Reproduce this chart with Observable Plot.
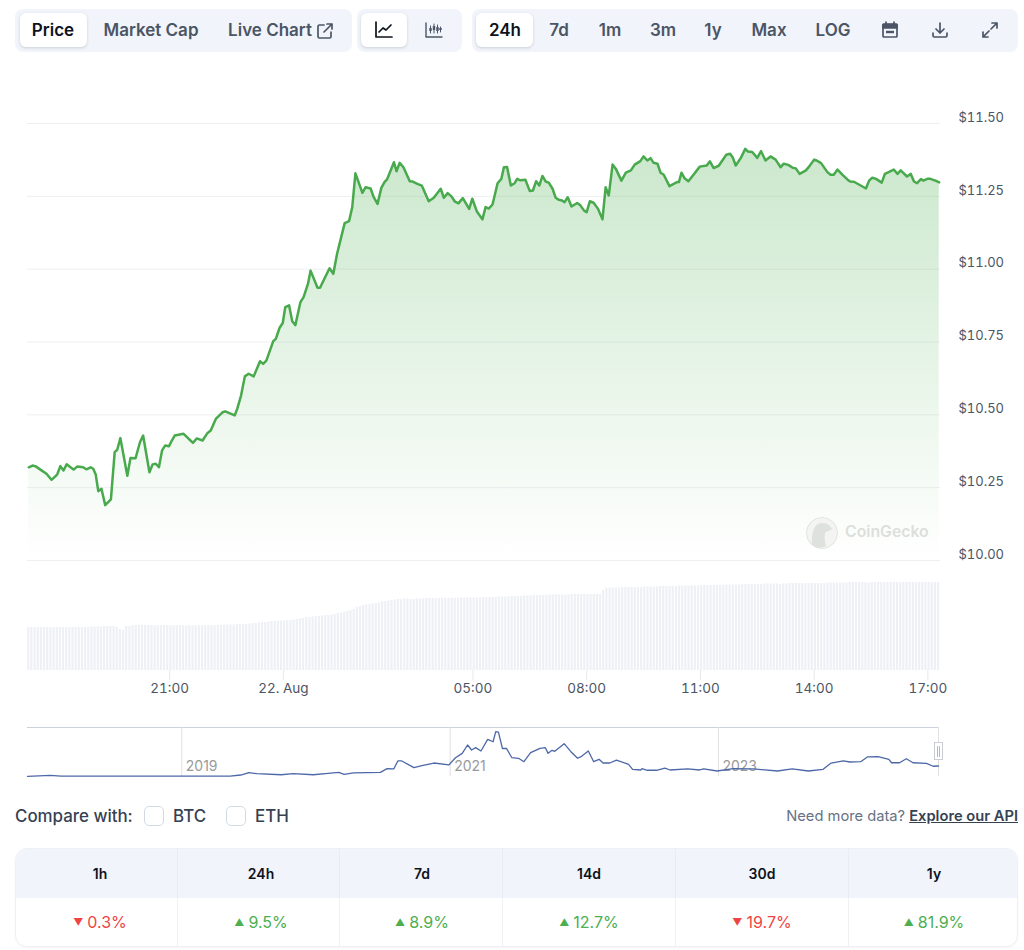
<!DOCTYPE html>
<html><head><meta charset="utf-8">
<script src="https://cdn.jsdelivr.net/npm/d3@7"></script>
<script src="https://cdn.jsdelivr.net/npm/@observablehq/plot@0.6"></script>
<style>
html,body{margin:0;padding:0;background:#fff;font-family:Inter,sans-serif;}
#page{position:relative;width:1024px;height:950px;overflow:hidden;}
.abs{position:absolute;}
.grp{position:absolute;top:9px;height:43px;background:#f1f4fa;border-radius:8px;}
.btn{position:absolute;top:13px;height:34px;background:#fff;border-radius:6px;box-shadow:0 1px 3px rgba(30,40,60,.18);}
.lab{position:absolute;top:30px;transform:translate(-50%,-50%);font-size:17px;font-weight:600;color:#4b5565;white-space:nowrap;line-height:1;}
.lab.on{color:#0d121c;}
.ico{position:absolute;fill:none;stroke:#4b5565;stroke-width:1.7;stroke-linecap:round;stroke-linejoin:round;}
.plotbox{position:absolute;left:0;}
.plotbox svg{display:block;}
#table{position:absolute;left:15px;top:848px;width:1001px;height:97px;border:1px solid #eef0f4;border-radius:12px;overflow:hidden;box-shadow:0 1px 2px rgba(30,40,60,.05);}
.th{position:absolute;top:0;height:49px;background:#f1f4fa;font-size:14px;font-weight:600;color:#0d121c;display:flex;align-items:center;justify-content:center;border-right:1px solid #e9ecf2;box-sizing:border-box;}
.td{position:absolute;top:49px;height:48px;font-size:16px;display:flex;align-items:center;justify-content:center;border-right:1px solid #eef0f4;box-sizing:border-box;}
.arrow{font-size:10px;margin-right:4px;}
</style></head><body><div id="page">
<div class="grp" style="left:15px;width:337px"></div>
<div class="grp" style="left:357px;width:105px"></div>
<div class="grp" style="left:472px;width:546px"></div>
<div class="btn" style="left:20px;width:67px"></div>
<div class="btn" style="left:361px;width:46px"></div>
<div class="btn" style="left:476px;width:57px"></div>
<div id="labels"></div>
<svg class="ico" style="left:316px;top:22px" width="18" height="18" viewBox="0 0 18 18"><path d="M8 3H3.5A1.5 1.5 0 0 0 2 4.5v10A1.5 1.5 0 0 0 3.500 16h10a1.500 1.500 0 0 0 1.500-1.500V10M8 10l8-8M11 2h5v5"/></svg>
<svg class="ico" style="left:375px;top:21px;stroke:#0d121c" width="18" height="18" viewBox="0 0 18 18"><path d="M1 1v15h16M4 11l4-4 3 2 5-5"/></svg>
<svg class="ico" style="left:425px;top:21px" width="18" height="18" viewBox="0 0 18 18"><path d="M1 2v14h16" stroke-width="1.400"/><path d="M5.500 5v7M9 3v9M12.500 4v8M15.500 6v5" stroke-width="1"/><path d="M5.500 7v3M9 5v4M12.500 6v4M15.500 7v2" stroke-width="2.400" stroke-linecap="butt"/></svg>
<svg class="ico" style="left:881px;top:21px" width="18" height="18" viewBox="0 0 18 18"><path d="M3 3h12a1 1 0 0 1 1 1v11a1 1 0 0 1-1 1H3a1 1 0 0 1-1-1V4a1 1 0 0 1 1-1z"/><path d="M2 3.500h14v3.500H2z" fill="#4b5565"/><path d="M5 1v3M13 1v3"/><path d="M5 11h8" stroke-width="2.400" stroke-linecap="butt"/></svg>
<svg class="ico" style="left:931px;top:21px" width="18" height="18" viewBox="0 0 18 18"><path d="M9 2v10M5 8l4 4 4-4M2 12v2.500A1.500 1.500 0 0 0 3.500 16h11a1.500 1.500 0 0 0 1.500-1.500V12"/></svg>
<svg class="ico" style="left:981px;top:21px" width="18" height="18" viewBox="0 0 18 18"><path d="M11 2h5v5M16 2l-6 6M7 16H2v-5M2 16l6-6"/></svg>

<div id="volume" class="plotbox" style="top:570px"></div>
<div id="price" class="plotbox" style="top:100px"></div>
<div id="nav" class="plotbox" style="top:720px"></div>

<svg class="abs" style="left:806px;top:517px" width="32" height="32" viewBox="0 0 32 32"><circle cx="16" cy="16" r="15.500" fill="#f4f5f3" stroke="#e2e4e1"/><path d="M6 28C5 14 9 6 16 6c5 0 8 2 10 6-2 2-6 2-7 4-1 5 0 9 1 13-4 2-10 2-14-1z" fill="#dfe1de"/></svg>
<div class="abs" style="left:845px;top:523px;font-size:15.800px;font-weight:600;color:#dcdfdc;line-height:18px">CoinGecko</div>

<div class="abs" style="left:15px;top:806px;font-size:16.900px;font-weight:500;color:#364152;line-height:20px">Compare with:</div>
<div class="abs" style="left:144px;top:806px;width:18px;height:18px;border:1px solid #d3d9e3;border-radius:5px"></div>
<div class="abs" style="left:173px;top:806px;font-size:16.900px;font-weight:500;color:#364152;line-height:20px">BTC</div>
<div class="abs" style="left:226px;top:806px;width:18px;height:18px;border:1px solid #d3d9e3;border-radius:5px"></div>
<div class="abs" style="left:255px;top:806px;font-size:16.900px;font-weight:500;color:#364152;line-height:20px">ETH</div>
<div class="abs" style="right:6px;top:806px;font-size:14.700px;color:#677285;line-height:20px;white-space:nowrap">Need more data? <span style="font-weight:600;color:#364152;text-decoration:underline">Explore our API</span></div>
<div id="table"></div>
</div>
<script>
// ---- toolbar and table text ----
const toolbarLabels = ["Price","Market Cap","Live Chart","24h","7d","1m","3m","1y","Max","LOG"];
const toolbarCenters = [53,151,270,505,559,610,663,713,769,833];
const activeLabels = ["Price","24h"];
const periods = ["1h","24h","7d","14d","30d","1y"];
const changes = [-0.3,9.5,8.9,12.7,-19.7,81.9];
const columnEdges = [0,162,324,487,660,833,1001];
const columnPadding = [7,5,2,0,0,2];

// ---- main chart: minutes since 17:15 on 21 Aug, and price in USD ----
const priceMinutes = [2,8,13,21,30,38,47,52,57,62,68,73,79,88,93,100,104,108,112,117,123,132,138,142,147,158,163,171,178,183,193,198,203,208,213,218,224,228,233,247,255,262,268,277,285,290,298,309,313,328,332,338,344,350,358,368,373,378,389,393,399,404,408,414,419,424,432,437,444,448,459,463,478,484,490,502,509,514,519,524,530,535,543,548,554,560,565,569,580,584,589,595,605,609,617,624,635,643,654,659,665,671,676,682,689,699,704,711,720,725,730,736,744,750,754,759,765,771,775,780,788,795,800,805,810,815,820,825,831,836,841,846,850,855,861,870,875,881,885,890,896,903,910,915,920,926,931,940,947,955,961,970,975,981,986,991,997,1002,1007,1016,1028,1031,1035,1040,1046,1055,1064,1075,1080,1086,1094,1106,1112,1116,1121,1129,1136,1140,1147,1155,1161,1168,1176,1184,1192,1197,1204,1211,1216,1222,1232,1237,1245,1249,1256,1266,1271,1276,1282,1290,1298,1302,1308,1318,1327,1332,1337,1343,1352,1357,1363,1371,1377,1382,1392,1398,1403,1408,1414,1418,1424,1429,1437,1443];
const priceUsd = [10.32,10.326,10.323,10.311,10.298,10.277,10.295,10.324,10.309,10.33,10.32,10.312,10.323,10.32,10.313,10.32,10.315,10.295,10.238,10.246,10.19,10.21,10.372,10.38,10.42,10.291,10.352,10.351,10.406,10.429,10.303,10.33,10.332,10.32,10.378,10.395,10.392,10.41,10.429,10.435,10.418,10.404,10.419,10.412,10.438,10.446,10.486,10.509,10.512,10.498,10.521,10.566,10.632,10.641,10.632,10.684,10.675,10.686,10.753,10.761,10.799,10.815,10.87,10.876,10.821,10.808,10.887,10.904,10.95,10.995,10.936,10.936,11.003,10.984,11.053,11.158,11.165,11.213,11.329,11.299,11.262,11.281,11.277,11.247,11.224,11.279,11.299,11.308,11.367,11.336,11.365,11.35,11.302,11.301,11.293,11.287,11.233,11.245,11.276,11.245,11.261,11.25,11.233,11.226,11.244,11.207,11.242,11.199,11.171,11.213,11.208,11.222,11.295,11.31,11.35,11.351,11.287,11.295,11.31,11.305,11.307,11.268,11.27,11.302,11.287,11.32,11.301,11.297,11.276,11.245,11.238,11.236,11.23,11.247,11.215,11.227,11.219,11.201,11.196,11.233,11.228,11.207,11.171,11.281,11.253,11.359,11.345,11.304,11.331,11.339,11.359,11.371,11.387,11.373,11.381,11.365,11.362,11.331,11.324,11.285,11.299,11.299,11.331,11.312,11.302,11.327,11.352,11.356,11.37,11.347,11.355,11.393,11.396,11.384,11.356,11.382,11.413,11.404,11.402,11.382,11.405,11.373,11.387,11.376,11.35,11.362,11.358,11.348,11.346,11.327,11.339,11.352,11.376,11.373,11.364,11.333,11.324,11.324,11.342,11.324,11.307,11.301,11.3,11.288,11.277,11.304,11.314,11.31,11.297,11.327,11.333,11.342,11.327,11.339,11.318,11.327,11.301,11.295,11.309,11.304,11.31,11.31,11.304,11.298];
const priceTicks = [10,10.25,10.5,10.75,11,11.25,11.5];

// ---- volume bars, one every five minutes, in millions ----
const volumes = [43,43,43,43,43,43,43,43,43,43,43,43,43,43,43,43,43,43,43,43,43.500,43.500,43.500,43.500,44,44,44,44,43,41,40,44,44,45,45,45,45,45,45,45,44.800,44.800,44.800,44.800,44.800,44.800,44.800,44.800,44.800,44.800,44.800,44.800,44.800,44.800,44.800,44.800,44.800,44.800,44.800,44.800,45,45,45.500,45.500,45.500,45.500,46,46,46,46,46.500,47,47,47.500,48,48,48.500,49,49,49,49.500,49.500,50,50,50.500,51,51.500,52,53,53,53.500,54,54,54.500,55,55,55.500,56,57,57.500,58,59,60,61,63,64,65,65.500,66,66.500,67,67.500,69,69,69.500,70,70.500,71,71,71.500,71.500,71,71,71.500,71.500,71.500,72,72,72,72,72,72.300,72.300,72,72.300,72.300,72.300,72.500,72.500,72.500,72.500,72.500,72.500,72.500,73,73,73,73,73,73.500,73.500,73.500,73.500,74,74,74,74,74.500,74.500,74.500,75,75,75,75,75,75.500,75.500,75.500,75.500,75.500,75.500,75.500,76,76,76,76,76,76,76,76,76,76,80,82,82.500,82.500,82.500,82.500,83,83,83,83,83,83,83,83.500,83.500,83.500,83.500,83.500,84,84,84,84,84,84,84.500,84.500,84.500,84.500,84.500,84.500,84.500,85,85,85,85,85,85,85,85.500,85.500,85.500,85.500,85.500,85.500,86,86,86,86,86,86,86,86.500,86.500,86.500,86.500,86.500,86,86.500,86.500,87,87,87,87,87,87,87,87,87,87,87,87,87.500,87.500,87.500,87.500,87.500,87.500,87.500,88,88,88,88,88,87.500,87.500,88,88,88,88,88,88,88,88,88,88,88,88,88,88,88,88,88,88,88,88,88,88];
const timeTicks = ["2024-08-21T21:00Z","2024-08-22T00:00Z","2024-08-22T05:00Z","2024-08-22T08:00Z","2024-08-22T11:00Z","2024-08-22T14:00Z","2024-08-22T17:00Z"];
const timeTickLabels = ["21:00","22. Aug","05:00","08:00","11:00","14:00","17:00"];

// ---- navigator overview: year and price ----
const navYears = [2017.85,2018.02,2018.10,2018.64,2018.99,2019.36,2019.44,2019.50,2019.56,2019.74,2019.83,2019.98,2020.09,2020.17,2020.21,2020.28,2020.48,2020.53,2020.58,2020.61,2020.64,2020.73,2020.79,2020.88,2020.99,2021.04,2021.09,2021.13,2021.16,2021.19,2021.23,2021.28,2021.32,2021.34,2021.36,2021.39,2021.42,2021.46,2021.51,2021.55,2021.60,2021.67,2021.71,2021.73,2021.76,2021.78,2021.85,2021.90,2021.95,2021.98,2022.03,2022.07,2022.11,2022.14,2022.19,2022.24,2022.33,2022.36,2022.42,2022.43,2022.47,2022.54,2022.60,2022.64,2022.77,2022.86,2022.89,2022.99,2023.11,2023.26,2023.44,2023.55,2023.67,2023.78,2023.84,2023.93,2023.98,2024.06,2024.11,2024.19,2024.27,2024.29,2024.35,2024.40,2024.45,2024.55,2024.60,2024.64];
const navPrices = [0.2,1.3,0.5,0.5,0.5,0.5,1.6,4.1,3.0,1.9,3.0,1.9,3.4,4.5,2.4,3.8,4.5,8.4,8.1,16.7,16.7,9.5,11.6,14.5,12.4,20.2,24.9,33.9,28.5,31,27.4,40,37.4,48.2,47.8,30.1,30.3,20.2,19.6,15.9,25.6,30.3,31,24.9,28.2,27.1,35.3,26.7,19.6,21.7,27.4,15.9,18.5,14.5,14.5,17.7,13.1,7.7,7,8.4,6.7,6.7,9.1,7,8.1,7,8.1,5.9,8.4,8.1,5.9,8.1,5.9,7.7,14.5,16.7,15.6,15.9,21,21.3,18.5,14.8,14.8,19.1,14.8,14.2,11,11.3];
const navTicks = [2019,2021,2023];

const start = Date.UTC(2024,7,21,17,15);
const toDate = m => new Date(start + m*60000);
const xDomain = [toDate(0), toDate(1445)];
const WIDTH = 1024;
const AXIS = "#4b5565";

const priceRows = priceMinutes.map((m,i)=>({t:toDate(m),p:priceUsd[i]}));
const gradient = () => {
  const ns="http://www.w3.org/2000/svg";
  const defs=document.createElementNS(ns,"defs");
  defs.innerHTML='<linearGradient id="fade" x1="0" y1="0" x2="0" y2="1"><stop offset="0" stop-color="#4caf50" stop-opacity="0.29"/><stop offset="1" stop-color="#4caf50" stop-opacity="0"/></linearGradient>';
  return defs;
};
document.getElementById("price").append(Plot.plot({
  width:WIDTH,height:480,marginLeft:27,marginRight:84,marginTop:23,marginBottom:20,
  style:{background:"transparent",fontFamily:"Inter",fontSize:"13px",overflow:"visible"},
  x:{type:"time",domain:xDomain,axis:null},
  y:{domain:[10,11.5],axis:null},
  marks:[
    gradient,
    Plot.ruleY(priceTicks,{stroke:"#eeeff2",strokeWidth:1}),
    Plot.areaY(priceRows,{x:"t",y1:10,y2:"p",fill:"url(#fade)"}),
    Plot.lineY(priceRows,{x:"t",y:"p",stroke:"#48a94d",strokeWidth:2.500,curve:"linear"}),
    Plot.axisY(priceTicks,{anchor:"right",tickSize:0,tickPadding:18,textAnchor:"start",dy:-6,fill:AXIS,tickFormat:d=>"$"+d.toFixed(2),label:null,fontSize:13})
  ]
}));

const volumeRows = volumes.map((v,i)=>({a:toDate(i*5+0.3),b:toDate(i*5+3.7),v}));
const tickDates = timeTicks.map(s=>new Date(s));
document.getElementById("volume").append(Plot.plot({
  width:WIDTH,height:130,marginLeft:27,marginRight:84,marginTop:0,marginBottom:30,
  style:{background:"transparent",fontFamily:"Inter",fontSize:"13.5px",overflow:"visible"},
  x:{type:"time",domain:xDomain,axis:null},
  y:{domain:[0,100],axis:null},
  marks:[
    Plot.rectY(volumeRows,{x1:"a",x2:"b",y:"v",fill:"#eef0f5"}),
    Plot.ruleX(tickDates,{y1:0,y2:-10,stroke:"#e6e8ec"}),
    Plot.axisX(tickDates,{tickSize:0,tickPadding:13,fill:AXIS,tickFormat:d=>timeTickLabels[tickDates.findIndex(t=>+t===+d)],label:null,fontSize:13.5})
  ]
}));

const navRows = navYears.map((y,i)=>({y,p:navPrices[i]}));
document.getElementById("nav").append(Plot.plot({
  width:WIDTH,height:60,marginLeft:27,marginRight:86,marginTop:7,marginBottom:4,
  style:{background:"transparent",fontFamily:"Inter",fontSize:"14px",overflow:"visible"},
  x:{domain:[2017.85,2024.64],axis:null},
  y:{domain:[0,52.7],axis:null},
  marks:[
    Plot.ruleY([52.7],{stroke:"#cbd2dd"}),
    Plot.ruleX([...navTicks,2024.64],{stroke:"#e0e0e0"}),
    Plot.text(navTicks,{x:d=>d,y:0,text:d=>String(d),textAnchor:"start",dx:4,dy:-10,fill:"#9a9a9a",fontSize:14}),
    Plot.lineY(navRows,{x:"y",y:"p",stroke:"#4d68a8",strokeWidth:1.300}),
    Plot.ruleX([2024.64],{y1:17.2,y2:36.6,stroke:"#c9ccd2",strokeWidth:9}),
    Plot.ruleX([2024.64],{y1:18.2,y2:35.6,stroke:"#fff",strokeWidth:7}),
    Plot.ruleX([2024.64],{y1:20.4,y2:32,stroke:"#b5b8be",strokeWidth:3}),
    Plot.ruleX([2024.64],{y1:20.4,y2:32,stroke:"#fff",strokeWidth:1})
  ]
}));

// toolbar labels
const labelsEl=document.getElementById("labels");
toolbarLabels.forEach((t,i)=>{
  const d=document.createElement("div");
  d.className="lab"+(activeLabels.includes(t)?" on":"");
  d.style.left=toolbarCenters[i]+"px";
  d.textContent=t;
  labelsEl.append(d);
});
// table
const tableEl=document.getElementById("table");
periods.forEach((p,i)=>{
  const l=columnEdges[i], w=columnEdges[i+1]-l;
  const th=document.createElement("div");
  th.className="th";th.style.left=l+"px";th.style.width=w+"px";th.style.paddingLeft=columnPadding[i]+"px";th.textContent=p;
  const td=document.createElement("div");
  const up=changes[i]>=0;
  td.className="td";td.style.left=l+"px";td.style.width=w+"px";td.style.paddingLeft=columnPadding[i]+"px";td.style.color=up?"#4caf50":"#ef4444";
  const a=document.createElement("span");a.className="arrow";a.textContent=up?"▲":"▼";
  td.append(a,Math.abs(changes[i]).toFixed(1)+"%");
  if(i===periods.length-1){th.style.borderRight="none";td.style.borderRight="none";}
  tableEl.append(th,td);
});
</script>
</body></html>
